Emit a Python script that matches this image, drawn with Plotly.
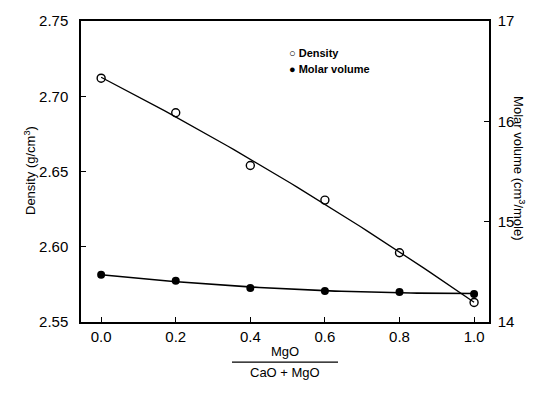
import numpy as np
import plotly.graph_objects as go

# Data
mgo_fraction = [0.0, 0.2, 0.4, 0.6, 0.8, 1.0]
density = [2.712, 2.689, 2.654, 2.631, 2.596, 2.563]
molar_volume = [14.47, 14.41, 14.34, 14.31, 14.30, 14.28]

x_ticks = [0.0, 0.2, 0.4, 0.6, 0.8, 1.0]
x_ticktext = ["0.0", "0.2", "0.4", "0.6", "0.8", "1.0"]
y1_ticks = [2.55, 2.60, 2.65, 2.70, 2.75]
y1_ticktext = ["2.55", "2.60", "2.65", "2.70", "2.75"]
y2_ticks = [14, 15, 16, 17]
y2_ticktext = ["14", "15", "16", "17"]

FONT = "Liberation Sans, Arial, sans-serif"
W, H = 535, 401
L, R, T, B = 81, 46, 15, 79
PW, PH = W - L - R, H - T - B


def px(x):
    return (x - L) / PW


def py(y):
    return (H - B - y) / PH


# Smooth fitted curves through the measured points (as drawn in the original)
xf = np.linspace(min(mgo_fraction), max(mgo_fraction), 60)
dens_fit = np.polyval(np.polyfit(mgo_fraction, density, 2), xf)
mv_fit = np.polyval(np.polyfit(mgo_fraction, molar_volume, 2), xf)

fig = go.Figure()
fig.add_trace(go.Scatter(x=xf, y=dens_fit, mode="lines", hoverinfo="skip",
                         line=dict(color="black", width=1.3), showlegend=False))
fig.add_trace(go.Scatter(x=xf, y=mv_fit, mode="lines", yaxis="y2", hoverinfo="skip",
                         line=dict(color="black", width=1.6), showlegend=False))
fig.add_trace(go.Scatter(
    x=mgo_fraction, y=density, mode="markers", name="Density",
    marker=dict(symbol="circle-open", size=8, color="black", line=dict(width=1.4)),
    showlegend=False))
fig.add_trace(go.Scatter(
    x=mgo_fraction, y=molar_volume, mode="markers", name="Molar volume",
    yaxis="y2", marker=dict(symbol="circle", size=8, color="black"),
    showlegend=False))

axis_common = dict(showline=True, linecolor="black", linewidth=1.5,
                   ticks="inside", ticklen=5, tickwidth=1.2, tickcolor="black",
                   showgrid=False, zeroline=False,
                   tickfont=dict(family=FONT, size=15, color="black"))

fig.update_layout(
    width=W, height=H,
    margin=dict(l=L, r=R, t=T, b=B),
    plot_bgcolor="white", paper_bgcolor="white",
    xaxis=dict(range=[-0.054, 1.040], tickvals=x_ticks, ticktext=x_ticktext,
               mirror=True, **axis_common),
    yaxis=dict(range=[2.55, 2.75], tickvals=y1_ticks, ticktext=y1_ticktext,
               ticklabelstandoff=8, **axis_common),
    yaxis2=dict(range=[14, 17], tickvals=y2_ticks, ticktext=y2_ticktext,
                overlaying="y", side="right", ticklabelstandoff=4, **axis_common),
)

ann_font = dict(family=FONT, size=13, color="black")
annotations = [
    dict(text="Density (g/cm<sup>3</sup>)", x=px(30), y=py(168), textangle=-90),
    dict(text="Molar volume (cm<sup>3</sup>/mole)", x=px(519), y=py(165), textangle=90),
    dict(text="MgO", x=px(285), y=py(352)),
    dict(text="CaO + MgO", x=px(285), y=py(374)),
]
for a in annotations:
    fig.add_annotation(xref="paper", yref="paper", showarrow=False,
                       font=ann_font, xanchor="center", yanchor="middle", **a)

legend_font = dict(family=FONT, size=11, color="black")
fig.add_annotation(xref="paper", yref="paper", showarrow=False, font=legend_font,
                   text="<b>○ Density</b>", x=px(287), y=py(48), xanchor="left", yanchor="middle")
fig.add_annotation(xref="paper", yref="paper", showarrow=False, font=legend_font,
                   text="<b>● Molar volume</b>", x=px(287), y=py(64), xanchor="left", yanchor="middle")

fig.add_shape(type="line", xref="paper", yref="paper",
              x0=px(232), x1=px(338), y0=py(363), y1=py(363),
              line=dict(color="black", width=1.3))

fig.write_html("out.html")
